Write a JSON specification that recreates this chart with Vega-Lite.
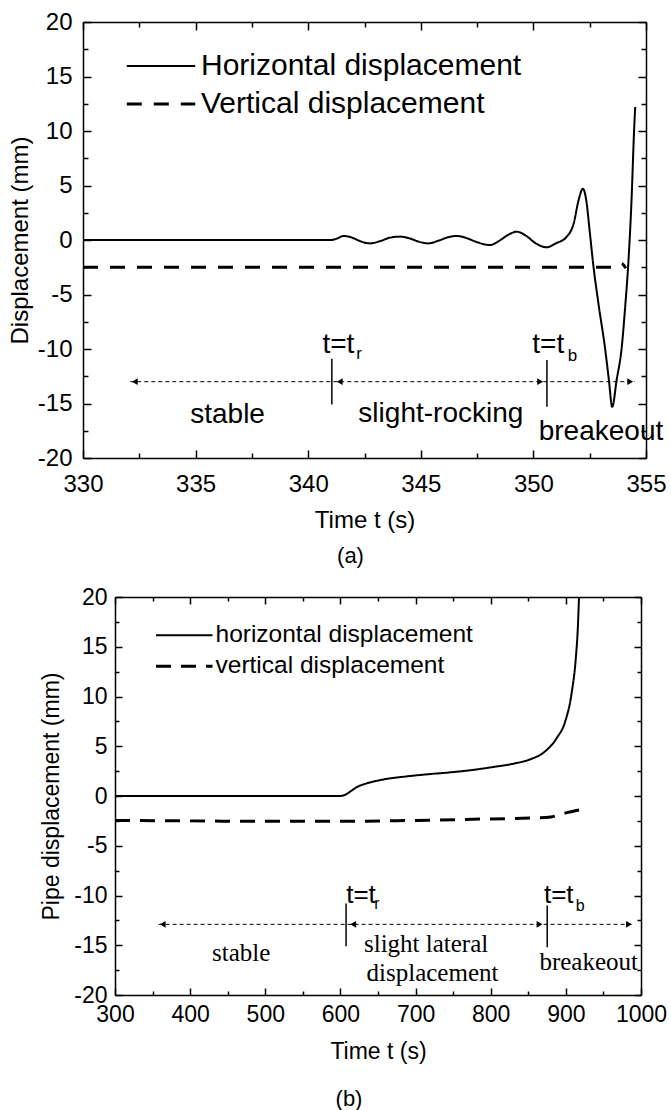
{
  "$schema": "https://vega.github.io/schema/vega-lite/v6.json",
  "background": "white",
  "padding": {"left": 8, "top": 10, "right": 0, "bottom": 0},
  "spacing": 19,
  "config": {
    "view": {"stroke": null},
    "font": "Liberation Sans",
    "axis": {"grid": false, "domainColor": "black", "tickColor": "black", "labelColor": "black", "titleColor": "black", "labelFont": "Liberation Sans", "titleFont": "Liberation Sans", "labelFlush": false, "labelOverlap": false, "titleFontWeight": "normal"}
  },
  "resolve": {"scale": {"strokeDash": "independent", "strokeWidth": "independent"}, "legend": {"strokeDash": "independent"}},
  "vconcat": [
    {
      "width": 563,
      "height": 436,
      "title": {"text": "(a)", "orient": "bottom", "dx": -14, "offset": 14, "fontSize": 22, "font": "Liberation Sans", "fontWeight": "normal", "color": "black"},
      "resolve": {"axis": {"x": "independent", "y": "independent"}},
      "layer": [
        {
          "data": {"values": [
            {"t": 330, "v": 0, "s": "Horizontal displacement"},
            {"t": 341.0, "v": 0, "s": "Horizontal displacement"},
            {"t": 341.3, "v": 0.15, "s": "Horizontal displacement"},
            {"t": 341.56, "v": 0.37, "s": "Horizontal displacement"},
            {"t": 341.9, "v": 0.25, "s": "Horizontal displacement"},
            {"t": 342.3, "v": -0.1, "s": "Horizontal displacement"},
            {"t": 342.74, "v": -0.31, "s": "Horizontal displacement"},
            {"t": 343.2, "v": -0.1, "s": "Horizontal displacement"},
            {"t": 343.6, "v": 0.2, "s": "Horizontal displacement"},
            {"t": 344.08, "v": 0.31, "s": "Horizontal displacement"},
            {"t": 344.5, "v": 0.15, "s": "Horizontal displacement"},
            {"t": 344.9, "v": -0.15, "s": "Horizontal displacement"},
            {"t": 345.33, "v": -0.31, "s": "Horizontal displacement"},
            {"t": 345.8, "v": -0.05, "s": "Horizontal displacement"},
            {"t": 346.2, "v": 0.25, "s": "Horizontal displacement"},
            {"t": 346.6, "v": 0.37, "s": "Horizontal displacement"},
            {"t": 347.0, "v": 0.2, "s": "Horizontal displacement"},
            {"t": 347.5, "v": -0.2, "s": "Horizontal displacement"},
            {"t": 348.07, "v": -0.46, "s": "Horizontal displacement"},
            {"t": 348.5, "v": -0.05, "s": "Horizontal displacement"},
            {"t": 348.9, "v": 0.5, "s": "Horizontal displacement"},
            {"t": 349.26, "v": 0.76, "s": "Horizontal displacement"},
            {"t": 349.7, "v": 0.35, "s": "Horizontal displacement"},
            {"t": 350.1, "v": -0.3, "s": "Horizontal displacement"},
            {"t": 350.59, "v": -0.67, "s": "Horizontal displacement"},
            {"t": 351.0, "v": -0.3, "s": "Horizontal displacement"},
            {"t": 351.48, "v": 0.3, "s": "Horizontal displacement"},
            {"t": 351.8, "v": 1.6, "s": "Horizontal displacement"},
            {"t": 352.0, "v": 3.6, "s": "Horizontal displacement"},
            {"t": 352.2, "v": 4.7, "s": "Horizontal displacement"},
            {"t": 352.35, "v": 3.6, "s": "Horizontal displacement"},
            {"t": 352.5, "v": 0.8, "s": "Horizontal displacement"},
            {"t": 352.66, "v": -2.3, "s": "Horizontal displacement"},
            {"t": 352.9, "v": -6.0, "s": "Horizontal displacement"},
            {"t": 353.18, "v": -9.9, "s": "Horizontal displacement"},
            {"t": 353.35, "v": -12.8, "s": "Horizontal displacement"},
            {"t": 353.5, "v": -15.3, "s": "Horizontal displacement"},
            {"t": 353.7, "v": -12.8, "s": "Horizontal displacement"},
            {"t": 353.92, "v": -9.9, "s": "Horizontal displacement"},
            {"t": 354.08, "v": -6.0, "s": "Horizontal displacement"},
            {"t": 354.21, "v": -2.3, "s": "Horizontal displacement"},
            {"t": 354.36, "v": 3.8, "s": "Horizontal displacement"},
            {"t": 354.47, "v": 10.0, "s": "Horizontal displacement"},
            {"t": 354.52, "v": 12.2, "s": "Horizontal displacement"},
            {"t": 330, "v": -2.5, "s": "Vertical displacement"},
            {"t": 353.5, "v": -2.5, "s": "Vertical displacement"},
            {"t": 353.77, "v": -2.15, "s": "Vertical displacement"},
            {"t": 353.95, "v": -2.2, "s": "Vertical displacement"},
            {"t": 354.1, "v": -2.6, "s": "Vertical displacement"}
          ]},
          "mark": {"type": "line", "color": "black", "interpolate": "monotone"},
          "encoding": {
            "x": {"field": "t", "type": "quantitative", "scale": {"domain": [330, 355], "nice": false, "zero": false},
              "axis": {"orient": "bottom", "values": [330, 335, 340, 345, 350, 355], "tickSize": -8, "tickWidth": 1.5, "domainWidth": 1.5, "labelFontSize": 24, "labelPadding": 22, "title": "Time t (s)", "titleFontSize": 24, "titlePadding": 12}},
            "y": {"field": "v", "type": "quantitative", "scale": {"domain": [-20, 20], "nice": false, "zero": false},
              "axis": {"orient": "left", "values": [-20, -15, -10, -5, 0, 5, 10, 15, 20], "tickSize": -8, "tickWidth": 1.5, "domainWidth": 1.5, "labelFontSize": 24, "labelPadding": 19, "labelExpr": "datum.value < 0 ? '-' + abs(datum.value) : '' + datum.value", "title": "Displacement (mm)", "titleFontSize": 24, "titlePadding": 5}},
            "strokeDash": {"field": "s", "type": "nominal",
              "scale": {"domain": ["Horizontal displacement", "Vertical displacement"], "range": [[1, 0], [15, 12]]},
              "legend": {"orient": "none", "legendX": 63, "legendY": 29, "title": null, "symbolType": "M-3,0L3,0", "symbolSize": 520, "symbolStrokeWidth": 2.5, "symbolStrokeColor": "black", "labelFont": "Liberation Sans", "labelFontSize": 30, "labelColor": "black", "labelOffset": 25, "rowPadding": 8, "padding": 0, "labelLimit": 600,
                "encode": {"symbols": {"update": {"strokeDash": {"signal": "datum.value === 'Vertical displacement' ? [12, 15] : [1, 0]"}}}}}},
            "strokeWidth": {"field": "s", "type": "nominal", "scale": {"domain": ["Horizontal displacement", "Vertical displacement"], "range": [2, 3]}, "legend": null}
          }
        },
        {
          "data": {"values": [{"t1": 332.1, "t2": 354.5, "v": -13}]},
          "mark": {"type": "rule", "color": "black", "strokeWidth": 1, "strokeDash": [4, 3]},
          "encoding": {
            "x": {"field": "t1", "type": "quantitative", "scale": {"domain": [330, 355], "nice": false, "zero": false},
              "axis": {"orient": "top", "values": [330, 335, 340, 345, 350, 355], "tickSize": -8, "tickWidth": 1.5, "domainWidth": 1.5, "labels": false, "title": null}},
            "x2": {"field": "t2"},
            "y": {"field": "v", "type": "quantitative", "scale": {"domain": [-20, 20], "nice": false, "zero": false},
              "axis": {"orient": "right", "values": [-20, -15, -10, -5, 0, 5, 10, 15, 20], "tickSize": -8, "tickWidth": 1.5, "domainWidth": 1.5, "labels": false, "title": null}}
          }
        },
        {
          "data": {"values": [{"t": 341.05, "v1": -10.9, "v2": -15.1}, {"t": 350.6, "v1": -11.0, "v2": -15.3}]},
          "mark": {"type": "rule", "color": "black", "strokeWidth": 1.5},
          "encoding": {
            "x": {"field": "t", "type": "quantitative", "scale": {"domain": [330, 355], "nice": false, "zero": false},
              "axis": {"orient": "bottom", "values": [332.5, 337.5, 342.5, 347.5, 352.5], "tickSize": -5, "tickWidth": 1.5, "domain": false, "labels": false, "title": null}},
            "y": {"field": "v1", "type": "quantitative", "scale": {"domain": [-20, 20], "nice": false, "zero": false},
              "axis": {"orient": "left", "values": [-17.5, -12.5, -7.5, -2.5, 2.5, 7.5, 12.5, 17.5], "tickSize": -5, "tickWidth": 1.5, "domain": false, "labels": false, "title": null}},
            "y2": {"field": "v2"}
          }
        },
        {
          "data": {"values": [
            {"t": 332.3, "v": -13, "dir": "triangle-left"},
            {"t": 341.4, "v": -13, "dir": "triangle-left"},
            {"t": 350.3, "v": -13, "dir": "triangle-right"},
            {"t": 354.3, "v": -13, "dir": "triangle-right"}
          ]},
          "mark": {"type": "point", "filled": true, "color": "black", "size": 45, "opacity": 1},
          "encoding": {
            "x": {"field": "t", "type": "quantitative", "scale": {"domain": [330, 355], "nice": false, "zero": false},
              "axis": {"orient": "top", "values": [332.5, 337.5, 342.5, 347.5, 352.5], "tickSize": -5, "tickWidth": 1.5, "domain": false, "labels": false, "title": null}},
            "y": {"field": "v", "type": "quantitative", "scale": {"domain": [-20, 20], "nice": false, "zero": false},
              "axis": {"orient": "right", "values": [-17.5, -12.5, -7.5, -2.5, 2.5, 7.5, 12.5, 17.5], "tickSize": -5, "tickWidth": 1.5, "domain": false, "labels": false, "title": null}},
            "shape": {"field": "dir", "type": "nominal", "scale": null}
          }
        },
        {
          "data": {"values": [
            {"t": 336.42, "v": -16.8, "label": "stable"},
            {"t": 345.89, "v": -16.7, "label": "slight-rocking"},
            {"t": 353.0, "v": -18.35, "label": "breakeout"},
            {"t": 341.34, "v": -10.4, "label": "t=t"},
            {"t": 350.66, "v": -10.4, "label": "t=t"}
          ]},
          "mark": {"type": "text", "font": "Liberation Sans", "fontSize": 28, "color": "black", "align": "center", "baseline": "alphabetic"},
          "encoding": {
            "x": {"field": "t", "type": "quantitative", "scale": {"domain": [330, 355], "nice": false, "zero": false}, "axis": null},
            "y": {"field": "v", "type": "quantitative", "scale": {"domain": [-20, 20], "nice": false, "zero": false}, "axis": null},
            "text": {"field": "label"}
          }
        },
        {
          "data": {"values": [
            {"t": 342.26, "v": -10.9, "label": "r"},
            {"t": 351.74, "v": -11.1, "label": "b"}
          ]},
          "mark": {"type": "text", "font": "Liberation Sans", "fontSize": 17, "color": "black", "align": "center", "baseline": "alphabetic"},
          "encoding": {
            "x": {"field": "t", "type": "quantitative", "scale": {"domain": [330, 355], "nice": false, "zero": false}, "axis": null},
            "y": {"field": "v", "type": "quantitative", "scale": {"domain": [-20, 20], "nice": false, "zero": false}, "axis": null},
            "text": {"field": "label"}
          }
        }
      ]
    },
    {
      "width": 558,
      "height": 398,
      "title": {"text": "(b)", "orient": "bottom", "dx": -13, "offset": 26, "fontSize": 22, "font": "Liberation Sans", "fontWeight": "normal", "color": "black"},
      "resolve": {"axis": {"x": "independent", "y": "independent"}},
      "layer": [
        {
          "data": {"values": [
            {"t": 300, "v": 0, "s": "horizontal displacement"},
            {"t": 600, "v": 0, "s": "horizontal displacement"},
            {"t": 607, "v": 0.15, "s": "horizontal displacement"},
            {"t": 614, "v": 0.5, "s": "horizontal displacement"},
            {"t": 622, "v": 0.9, "s": "horizontal displacement"},
            {"t": 632, "v": 1.2, "s": "horizontal displacement"},
            {"t": 643, "v": 1.43, "s": "horizontal displacement"},
            {"t": 660, "v": 1.7, "s": "horizontal displacement"},
            {"t": 688, "v": 1.97, "s": "horizontal displacement"},
            {"t": 717, "v": 2.19, "s": "horizontal displacement"},
            {"t": 745, "v": 2.37, "s": "horizontal displacement"},
            {"t": 774, "v": 2.6, "s": "horizontal displacement"},
            {"t": 802, "v": 2.9, "s": "horizontal displacement"},
            {"t": 831, "v": 3.26, "s": "horizontal displacement"},
            {"t": 853, "v": 3.7, "s": "horizontal displacement"},
            {"t": 871, "v": 4.4, "s": "horizontal displacement"},
            {"t": 888, "v": 5.84, "s": "horizontal displacement"},
            {"t": 899, "v": 7.46, "s": "horizontal displacement"},
            {"t": 907.6, "v": 10.3, "s": "horizontal displacement"},
            {"t": 913.3, "v": 13.9, "s": "horizontal displacement"},
            {"t": 916, "v": 17, "s": "horizontal displacement"},
            {"t": 917.5, "v": 20, "s": "horizontal displacement"},
            {"t": 300, "v": -2.45, "s": "vertical displacement"},
            {"t": 400, "v": -2.5, "s": "vertical displacement"},
            {"t": 500, "v": -2.55, "s": "vertical displacement"},
            {"t": 600, "v": -2.55, "s": "vertical displacement"},
            {"t": 700, "v": -2.45, "s": "vertical displacement"},
            {"t": 800, "v": -2.3, "s": "vertical displacement"},
            {"t": 860, "v": -2.2, "s": "vertical displacement"},
            {"t": 880, "v": -2.1, "s": "vertical displacement"},
            {"t": 900, "v": -1.7, "s": "vertical displacement"},
            {"t": 918, "v": -1.4, "s": "vertical displacement"}
          ]},
          "mark": {"type": "line", "color": "black", "interpolate": "monotone"},
          "encoding": {
            "x": {"field": "t", "type": "quantitative", "scale": {"domain": [300, 1000], "range": [32, 558], "nice": false, "zero": false},
              "axis": {"orient": "bottom", "values": [300, 400, 500, 600, 700, 800, 900, 1000], "tickSize": -7, "tickWidth": 1.5, "domainWidth": 1.5, "labelFontSize": 23, "labelPadding": 15, "labelExpr": "'' + datum.value", "title": "Time t (s)", "titleFontSize": 23, "titlePadding": 14}},
            "y": {"field": "v", "type": "quantitative", "scale": {"domain": [-20, 20], "nice": false, "zero": false},
              "axis": {"orient": "left", "offset": -32, "values": [-20, -15, -10, -5, 0, 5, 10, 15, 20], "tickSize": -7, "tickWidth": 1.5, "domainWidth": 1.5, "labelFontSize": 23, "labelPadding": 15, "labelExpr": "datum.value < 0 ? '-' + abs(datum.value) : '' + datum.value", "title": "Pipe displacement (mm)", "titleFontSize": 23, "titleX": -64, "titleY": 199, "titleBaseline": "middle", "titleAngle": 270}},
            "strokeDash": {"field": "s", "type": "nominal",
              "scale": {"domain": ["horizontal displacement", "vertical displacement"], "range": [[1, 0], [15, 10]]},
              "legend": {"orient": "none", "legendX": 89, "legendY": 26, "title": null, "symbolType": "M-3,0L3,0", "symbolSize": 355, "symbolStrokeWidth": 2.5, "symbolStrokeColor": "black", "labelFont": "Liberation Sans", "labelFontSize": 24.5, "labelColor": "black", "labelOffset": 19, "rowPadding": 6, "padding": 0, "labelLimit": 600,
                "encode": {"symbols": {"update": {"strokeDash": {"signal": "datum.value === 'vertical displacement' ? [11, 11] : [1, 0]"}}}}}},
            "strokeWidth": {"field": "s", "type": "nominal", "scale": {"domain": ["horizontal displacement", "vertical displacement"], "range": [2, 3]}, "legend": null}
          }
        },
        {
          "data": {"values": [{"t1": 358, "t2": 989, "v": -12.9}]},
          "mark": {"type": "rule", "color": "black", "strokeWidth": 1, "strokeDash": [4, 3]},
          "encoding": {
            "x": {"field": "t1", "type": "quantitative", "scale": {"domain": [300, 1000], "range": [32, 558], "nice": false, "zero": false},
              "axis": {"orient": "top", "values": [300, 400, 500, 600, 700, 800, 900, 1000], "tickSize": -7, "tickWidth": 1.5, "domainWidth": 1.5, "labels": false, "title": null}},
            "x2": {"field": "t2"},
            "y": {"field": "v", "type": "quantitative", "scale": {"domain": [-20, 20], "nice": false, "zero": false},
              "axis": {"orient": "right", "values": [-20, -15, -10, -5, 0, 5, 10, 15, 20], "tickSize": -7, "tickWidth": 1.5, "domainWidth": 1.5, "labels": false, "title": null}}
          }
        },
        {
          "data": {"values": [{"t": 607.5, "v1": -10.8, "v2": -15.1}, {"t": 875.2, "v1": -11.0, "v2": -15.2}]},
          "mark": {"type": "rule", "color": "black", "strokeWidth": 1.5},
          "encoding": {
            "x": {"field": "t", "type": "quantitative", "scale": {"domain": [300, 1000], "range": [32, 558], "nice": false, "zero": false},
              "axis": {"orient": "bottom", "values": [350, 450, 550, 650, 750, 850, 950], "tickSize": -4, "tickWidth": 1.5, "domain": false, "labels": false, "title": null}},
            "y": {"field": "v1", "type": "quantitative", "scale": {"domain": [-20, 20], "nice": false, "zero": false},
              "axis": {"orient": "left", "offset": -32, "values": [-17.5, -12.5, -7.5, -2.5, 2.5, 7.5, 12.5, 17.5], "tickSize": -4, "tickWidth": 1.5, "domain": false, "labels": false, "title": null}},
            "y2": {"field": "v2"}
          }
        },
        {
          "data": {"values": [
            {"t": 363.5, "v": -12.9, "dir": "triangle-left"},
            {"t": 617, "v": -12.9, "dir": "triangle-left"},
            {"t": 865, "v": -12.9, "dir": "triangle-right"},
            {"t": 984, "v": -12.9, "dir": "triangle-right"}
          ]},
          "mark": {"type": "point", "filled": true, "color": "black", "size": 45, "opacity": 1},
          "encoding": {
            "x": {"field": "t", "type": "quantitative", "scale": {"domain": [300, 1000], "range": [32, 558], "nice": false, "zero": false},
              "axis": {"orient": "top", "values": [350, 450, 550, 650, 750, 850, 950], "tickSize": -4, "tickWidth": 1.5, "domain": false, "labels": false, "title": null}},
            "y": {"field": "v", "type": "quantitative", "scale": {"domain": [-20, 20], "nice": false, "zero": false},
              "axis": {"orient": "right", "values": [-17.5, -12.5, -7.5, -2.5, 2.5, 7.5, 12.5, 17.5], "tickSize": -4, "tickWidth": 1.5, "domain": false, "labels": false, "title": null}},
            "shape": {"field": "dir", "type": "nominal", "scale": null}
          }
        },
        {
          "data": {"values": [
            {"t": 627.4, "v": -10.8, "label": "t=t"},
            {"t": 890.5, "v": -10.8, "label": "t=t"}
          ]},
          "mark": {"type": "text", "font": "Liberation Sans", "fontSize": 26, "color": "black", "align": "center", "baseline": "alphabetic"},
          "encoding": {
            "x": {"field": "t", "type": "quantitative", "scale": {"domain": [300, 1000], "range": [32, 558], "nice": false, "zero": false}, "axis": null},
            "y": {"field": "v", "type": "quantitative", "scale": {"domain": [-20, 20], "nice": false, "zero": false}, "axis": null},
            "text": {"field": "label"}
          }
        },
        {
          "data": {"values": [
            {"t": 648.5, "v": -11.4, "label": "r"},
            {"t": 919, "v": -11.6, "label": "b"}
          ]},
          "mark": {"type": "text", "font": "Liberation Sans", "fontSize": 16, "color": "black", "align": "center", "baseline": "alphabetic"},
          "encoding": {
            "x": {"field": "t", "type": "quantitative", "scale": {"domain": [300, 1000], "range": [32, 558], "nice": false, "zero": false}, "axis": null},
            "y": {"field": "v", "type": "quantitative", "scale": {"domain": [-20, 20], "nice": false, "zero": false}, "axis": null},
            "text": {"field": "label"}
          }
        },
        {
          "data": {"values": [
            {"t": 468, "v": -16.56, "label": "stable"},
            {"t": 714, "v": -15.66, "label": "slight lateral"},
            {"t": 722.5, "v": -18.6, "label": "displacement"},
            {"t": 930.4, "v": -17.45, "label": "breakeout"}
          ]},
          "mark": {"type": "text", "font": "Liberation Serif", "fontSize": 25, "color": "black", "align": "center", "baseline": "alphabetic"},
          "encoding": {
            "x": {"field": "t", "type": "quantitative", "scale": {"domain": [300, 1000], "range": [32, 558], "nice": false, "zero": false}, "axis": null},
            "y": {"field": "v", "type": "quantitative", "scale": {"domain": [-20, 20], "nice": false, "zero": false}, "axis": null},
            "text": {"field": "label"}
          }
        }
      ]
    }
  ]
}
